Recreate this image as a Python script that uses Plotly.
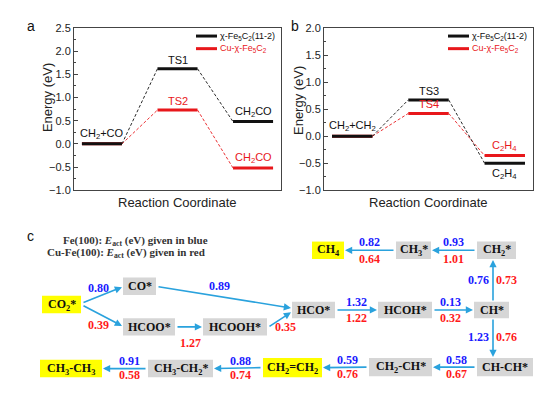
import plotly.graph_objects as go

W, H = 550, 393
SANS = "Liberation Sans, Arial, sans-serif"
SERIF = "Liberation Serif, Times New Roman, serif"
BLACK = "#111111"
RED = "#e8171b"
FRAME = "#444444"
ARROW = "#2aa2dd"
BLUE_T = "#1a1aff"
RED_T = "#ff1a1a"
GRAY = "#d6d6d6"
YELLOW = "#ffff00"

# ---------------- data: panels a and b ----------------
steps = [1, 2, 3]
series_names = ["χ-Fe<sub>5</sub>C<sub>2</sub>(11-2)", "Cu-χ-Fe<sub>5</sub>C<sub>2</sub>"]

a_fe = [0.00, 1.62, 0.48]
a_cu = [0.00, 0.73, -0.52]
a_fe_labels = ["CH<sub>2</sub>+CO", "TS1", "CH<sub>2</sub>CO"]
a_cu_labels = [None, "TS2", "CH<sub>2</sub>CO"]

b_fe = [0.00, 0.67, -0.50]
b_cu = [0.00, 0.42, -0.36]
b_fe_labels = ["CH<sub>2</sub>+CH<sub>2</sub>", "TS3", "C<sub>2</sub>H<sub>4</sub>"]
b_cu_labels = [None, "TS4", "C<sub>2</sub>H<sub>4</sub>"]

y_ticks_a = [-1.0, -0.5, 0.0, 0.5, 1.0, 1.5, 2.0, 2.5]
y_ticks_b = [-1.0, -0.5, 0.0, 0.5, 1.0, 1.5, 2.0]

# ---------------- data: panel c ----------------
nodes = ["CO2*", "CO*", "HCOO*", "HCOOH*", "HCO*", "HCOH*", "CH*", "CH2*", "CH3*", "CH4",
         "CH-CH*", "CH2-CH*", "CH2=CH2", "CH3-CH2*", "CH3-CH3"]
node_text = ["CO<sub>2</sub>*", "CO*", "HCOO*", "HCOOH*", "HCO*", "HCOH*", "CH*",
             "CH<sub>2</sub>*", "CH<sub>3</sub>*", "CH<sub>4</sub>", "CH-CH*", "CH<sub>2</sub>-CH*",
             "CH<sub>2</sub>=CH<sub>2</sub>", "CH<sub>3</sub>-CH<sub>2</sub>*", "CH<sub>3</sub>-CH<sub>3</sub>"]
highlight_species = ["CO2*", "CH4", "CH2=CH2", "CH3-CH3"]
edge_from = ["CO2*", "CO2*", "CO*", "HCOO*", "HCOOH*", "HCO*", "HCOH*", "CH*", "CH2*", "CH3*",
             "CH*", "CH-CH*", "CH2-CH*", "CH2=CH2", "CH3-CH2*"]
edge_to = ["CO*", "HCOO*", "HCO*", "HCOOH*", "HCO*", "HCOH*", "CH*", "CH2*", "CH3*", "CH4",
           "CH-CH*", "CH2-CH*", "CH2=CH2", "CH3-CH2*", "CH3-CH3"]
eact_fe = [0.80, None, 0.89, None, None, 1.32, 0.13, 0.76, 0.93, 0.82, 1.23, 0.58, 0.59, 0.88, 0.91]
eact_cu = [None, 0.39, None, 1.27, 0.35, 1.22, 0.32, 0.73, 1.01, 0.64, 0.76, 0.67, 0.76, 0.74, 0.58]

# ---------------- layout of the scheme (pixels) ----------------
NODE_BOX = {  # cx, cy, w, h
    "CO2*": (61.5, 308, 39, 18), "CO*": (139.5, 289, 33, 18), "HCOO*": (149, 331, 52, 18),
    "HCOOH*": (235, 331, 64, 18), "HCO*": (313.5, 313.5, 43, 17), "HCOH*": (405, 313.5, 54, 17),
    "CH*": (491.5, 313.5, 35, 17), "CH2*": (496.5, 252, 39, 18), "CH3*": (413.5, 252, 35, 18),
    "CH4": (328, 252, 32, 18), "CH-CH*": (505, 372.5, 56, 19), "CH2-CH*": (400.5, 372.5, 63, 19),
    "CH2=CH2": (292.5, 373, 59, 20), "CH3-CH2*": (180.5, 374, 65, 18), "CH3-CH3": (71, 374, 62, 18),
}
EDGE_PORTS = [("r", -2, "l", 1), ("r", 1, "l", -1), ("r", 1, "l", -2), ("r", 0, "l", 0),
              ("r", 0, "l", 2.5), ("r", 0, "l", 0), ("r", 0, "l", 0), ("t", 1.5, "b", -3.5),
              ("l", 0, "r", 0), ("l", 0, "r", 0), ("b", 1.5, "t", -12), ("l", 0, "r", 0),
              ("l", 0, "r", 0), ("l", 0, "r", 0), ("l", 0, "r", 0)]
LABEL_OFF = [  # (blue dx, dy), (red dx, dy) relative to arrow midpoint
    ((-4, -7), None), (None, (-4, 10)), ((-5, -12), None), (None, (1, 17)), (None, (6, 8)),
    ((0, -8.5), (0, 8.5)), ((-3, -8.5), (-3, 8.5)), ((-14, 0), (13, 0)),
    ((-1, -9), (-1, 9)), ((-1, -9), (-1, 9)), ((-14, -1), (13, -1)),
    ((2, -7.5), (2, 7)), ((2, -7.5), (2, 7)), ((2, -7.5), (2, 7)), ((4, -7.5), (4, 7)),
]


def P(x, y):
    return x / W, 1 - y / H


def txt(x, y, text, size, color, family=SANS, xanchor="center", yanchor="middle", **kw):
    px_, py_ = P(x, y)
    return dict(x=px_, y=py_, xref="paper", yref="paper", text=text, showarrow=False,
                xanchor=xanchor, yanchor=yanchor, font=dict(family=family, size=size, color=color), **kw)


fig = go.Figure()

HW = 0.265


def level_xy(energies):
    xs, ys = [], []
    for s, e in zip(steps, energies):
        xs += [s - HW, s + HW, None]
        ys += [e, e, None]
    return xs, ys


def conn_xy(energies):
    xs, ys = [], []
    for i in range(len(steps) - 1):
        xs += [steps[i] + HW, steps[i + 1] - HW, None]
        ys += [energies[i], energies[i + 1], None]
    return xs, ys


annotations = []
shapes = []

for xa, ya, fe, cu, fe_lab, cu_lab in [("x", "y", a_fe, a_cu, a_fe_labels, a_cu_labels),
                                       ("x2", "y2", b_fe, b_cu, b_fe_labels, b_cu_labels)]:
    for vals, col in [(cu, RED), (fe, BLACK)]:
        cx, cy = conn_xy(vals)
        fig.add_trace(go.Scatter(x=cx, y=cy, mode="lines", xaxis=xa, yaxis=ya, showlegend=False,
                                 line=dict(color=col, width=0.9, dash="3px,2px"), hoverinfo="skip"))
    for vals, col, nm in [(cu, RED, series_names[1]), (fe, BLACK, series_names[0])]:
        lx, ly = level_xy(vals)
        fig.add_trace(go.Scatter(x=lx, y=ly, mode="lines", xaxis=xa, yaxis=ya, showlegend=False,
                                 name=nm, line=dict(color=col, width=3)))
    for vals, labs, col in [(fe, fe_lab, BLACK), (cu, cu_lab, RED)]:
        for s, e, t in zip(steps, vals, labs):
            if t is None:
                continue
            below = (xa == "x2" and col == BLACK and s == 3)
            annotations.append(dict(x=s, y=e, xref=xa, yref=ya, text=t, showarrow=False,
                                    xanchor="center", yanchor="top" if below else "bottom",
                                    yshift=-2 if below else 1,
                                    font=dict(family=SANS, size=11, color=col)))

axis_common = dict(showline=True, linecolor=FRAME, linewidth=1, mirror=True,
                   showgrid=False, zeroline=False)
yax_common = dict(ticks="inside", ticklen=4, tickcolor=FRAME, tickformat=".1f",
                  tickfont=dict(family=SANS, size=11, color="#222"),
                  minor=dict(ticks="inside", ticklen=2, dtick=0.25, tickcolor=FRAME), **axis_common)

fig.update_layout(
    xaxis=dict(domain=[74 / W, 281 / W], range=[0.63, 3.37], showticklabels=False, ticks="",
               anchor="y", **axis_common),
    yaxis=dict(domain=[1 - 190 / H, 1 - 22.7 / H], range=[-1, 2.5], anchor="x",
               tickvals=y_ticks_a, **yax_common),
    xaxis2=dict(domain=[324 / W, 533 / W], range=[0.63, 3.37], showticklabels=False, ticks="",
                anchor="y2", **axis_common),
    yaxis2=dict(domain=[1 - 190 / H, 1 - 22.7 / H], range=[-1, 2.0], anchor="x2",
                tickvals=y_ticks_b, **yax_common),
)

# axis titles and panel letters
annotations.append(txt(47, 95, "Energy (eV)", 13, "#222", textangle=-90))
annotations.append(txt(298, 98, "Energy (eV)", 13, "#222", textangle=-90))
annotations.append(txt(177.5, 203, "Reaction Coordinate", 13, "#222"))
annotations.append(txt(428.5, 203, "Reaction Coordinate", 13, "#222"))
annotations.append(txt(31, 21, "a", 14, "#111"))
annotations.append(txt(295, 21, "b", 14, "#111"))
annotations.append(txt(30, 237, "c", 14, "#111"))

# legends
for x0 in [196, 448]:
    for nm, col, yy in [(series_names[0], BLACK, 31), (series_names[1], RED, 44)]:
        xa0, ya0 = P(x0, yy)
        xa1, _ = P(x0 + 21, yy)
        shapes.append(dict(type="line", xref="paper", yref="paper", x0=xa0, x1=xa1, y0=ya0, y1=ya0,
                           line=dict(color=col, width=3)))
        annotations.append(txt(x0 + 22, yy, nm, 9, col, xanchor="left"))

# ---------------- panel c: scheme ----------------
annotations.append(txt(135.5, 242, "<b>Fe(100): <i>E</i><sub>act</sub> (eV) given in blue</b>",
                       11, "#333", family=SERIF))
annotations.append(txt(126, 255, "<b>Cu-Fe(100): <i>E</i><sub>act</sub> (eV) given in red</b>",
                       11, "#333", family=SERIF))

for n, t in zip(nodes, node_text):
    cx, cy, w, h = NODE_BOX[n]
    x0, y0 = P(cx - w / 2, cy - h / 2)
    x1, y1 = P(cx + w / 2, cy + h / 2)
    shapes.append(dict(type="rect", xref="paper", yref="paper", x0=x0, x1=x1, y0=y1, y1=y0,
                       fillcolor=YELLOW if n in highlight_species else GRAY, line=dict(width=0),
                       layer="below"))
    annotations.append(txt(cx, cy, "<b>" + t + "</b>", 12, "#111", family=SERIF))


def port(n, side, off):
    cx, cy, w, h = NODE_BOX[n]
    g = 1
    if side == "r":
        return cx + w / 2 + g, cy + off
    if side == "l":
        return cx - w / 2 - g, cy + off
    if side == "t":
        return cx + off, cy - h / 2 - g
    return cx + off, cy + h / 2 + g


for i, (src, dst) in enumerate(zip(edge_from, edge_to)):
    ss, so, ds, do = EDGE_PORTS[i]
    tx_, ty_ = port(src, ss, so)
    hx_, hy_ = port(dst, ds, do)
    hx, hy = P(hx_, hy_)
    annotations.append(dict(x=hx, y=hy, xref="paper", yref="paper", text="", showarrow=True,
                            ax=tx_ - hx_, ay=ty_ - hy_, axref="pixel", ayref="pixel",
                            xanchor="center", yanchor="middle",
                            arrowhead=2, arrowsize=0.9, arrowwidth=1.6, arrowcolor=ARROW,
                            standoff=0, startstandoff=0, font=dict(size=1)))
    mx, my = (tx_ + hx_) / 2, (ty_ + hy_) / 2
    for val, off, col in [(eact_fe[i], LABEL_OFF[i][0], BLUE_T), (eact_cu[i], LABEL_OFF[i][1], RED_T)]:
        if val is None:
            continue
        annotations.append(txt(mx + off[0], my + off[1], "<b>%.2f</b>" % val, 12, col, family=SERIF))

fig.update_layout(
    width=W, height=H, margin=dict(l=0, r=0, t=0, b=0),
    paper_bgcolor="white", plot_bgcolor="rgba(0,0,0,0)",
    showlegend=False, annotations=annotations, shapes=shapes,
)

fig.write_html("out.html", config={"displayModeBar": False},
               post_script="document.body.style.margin='0';")
